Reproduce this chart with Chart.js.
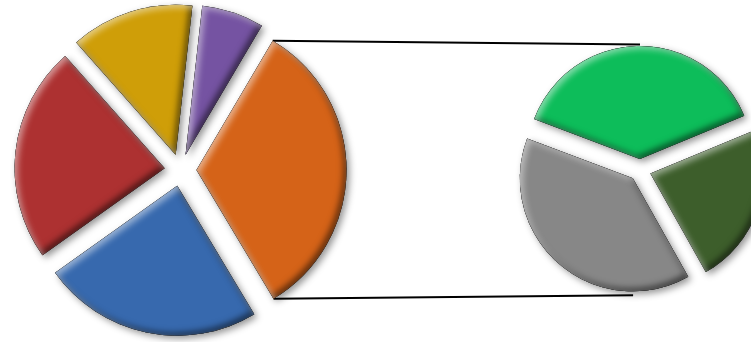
<!DOCTYPE html>
<html>
<head>
<meta charset="utf-8">
<script src="https://cdn.jsdelivr.net/npm/chart.js@4/dist/chart.umd.min.js"></script>
<style>
  html, body { margin: 0; padding: 0; background: #fff; overflow: hidden; width: 751px; height: 342px; }
  canvas { position: absolute; top: 0; }
  #lines { left: 0; z-index: 0; }
  #main { left: 0; z-index: 1; }
  #sub { left: 490px; z-index: 2; }
</style>
</head>
<body>
<canvas id="lines" width="751" height="342"></canvas>
<canvas id="main" width="361" height="342"></canvas>
<canvas id="sub" width="300" height="342"></canvas>
<script>
// ---- data ----
const mainCategories = ['E', 'Other', 'A', 'B', 'C'];
const mainValues = [6.7, 32.9, 23.7, 23.3, 13.3];
const mainColors = ['#7553a2', '#d56318', '#3769ae', '#ad3131', '#cf9e08'];

const subCategories = ['F', 'G', 'H'];
const subValues = [12.5, 7.6, 12.8];
const subColors = ['#0dbd5a', '#3d5e2b', '#878787'];

// ---- drawing helpers ----
function slicePath(ctx, arc) {
  ctx.moveTo(arc.x, arc.y);
  ctx.arc(arc.x, arc.y, arc.outerRadius, arc.startAngle, arc.endAngle);
  ctx.closePath();
}
function innerShadow(ctx, arc, color, blur, ox, oy) {
  ctx.save();
  ctx.beginPath();
  slicePath(ctx, arc);
  ctx.clip();
  ctx.beginPath();
  ctx.rect(-5000, -5000, 10000, 10000);
  slicePath(ctx, arc);
  ctx.shadowColor = color;
  ctx.shadowBlur = blur;
  ctx.shadowOffsetX = ox;
  ctx.shadowOffsetY = oy;
  ctx.fillStyle = '#000';
  ctx.fill('evenodd');
  ctx.restore();
}
const explodePlugin = {
  id: 'explode',
  beforeDatasetDraw(chart, args, opts) {
    const ctx = chart.ctx;
    const d = opts.distance || 0;
    args.meta.data.forEach((arc) => {
      const mid = (arc.startAngle + arc.endAngle) / 2;
      ctx.save();
      ctx.translate(Math.cos(mid) * d, Math.sin(mid) * d);
      ctx.save();
      ctx.shadowColor = 'rgba(0,0,0,0.42)';
      ctx.shadowBlur = 7;
      ctx.shadowOffsetX = 3;
      ctx.shadowOffsetY = 3;
      arc.draw(ctx);
      ctx.restore();
      innerShadow(ctx, arc, 'rgba(0,0,0,0.55)', 6, -3, -3);
      innerShadow(ctx, arc, 'rgba(255,255,255,0.5)', 6, 3, 3);
      ctx.restore();
    });
    return false;
  }
};

function pieConfig(labels, values, colors, rotation, padding, distance) {
  return {
    type: 'pie',
    data: { labels: labels, datasets: [{ data: values, backgroundColor: colors, borderWidth: 0, hoverOffset: 0, offset: 0 }] },
    options: {
      responsive: false,
      animation: false,
      events: [],
      devicePixelRatio: 1,
      rotation: rotation,
      layout: { padding: padding },
      plugins: { legend: { display: false }, tooltip: { enabled: false }, explode: { distance: distance } }
    },
    plugins: [explodePlugin]
  };
}

const MAIN_EXPLODE = 16, SUB_EXPLODE = 11;
const mainChart = new Chart(document.getElementById('main'),
  pieConfig(mainCategories, mainValues, mainColors, 6.4, { left: 20, right: 20, top: 20, bottom: 22 }, MAIN_EXPLODE));
const subChart = new Chart(document.getElementById('sub'),
  pieConfig(subCategories, subValues, subColors, 290.7, { left: 37, right: 37, top: 37, bottom: 39 }, SUB_EXPLODE));

// ---- connector lines between the "Other" slice and the secondary pie ----
(function drawConnectors() {
  const ctx = document.getElementById('lines').getContext('2d');
  const otherIdx = mainCategories.indexOf('Other');
  const arc = mainChart.getDatasetMeta(0).data[otherIdx];
  const mid = (arc.startAngle + arc.endAngle) / 2;
  const ox = arc.x + Math.cos(mid) * MAIN_EXPLODE;
  const oy = arc.y + Math.sin(mid) * MAIN_EXPLODE;
  const p1 = [ox + Math.cos(arc.startAngle) * arc.outerRadius, oy + Math.sin(arc.startAngle) * arc.outerRadius];
  const p2 = [ox + Math.cos(arc.endAngle) * arc.outerRadius, oy + Math.sin(arc.endAngle) * arc.outerRadius];
  const sArc = subChart.getDatasetMeta(0).data[0];
  const subLeft = document.getElementById('sub').offsetLeft;
  const cx = subLeft + sArc.x, cy = sArc.y;
  const reach = sArc.outerRadius + SUB_EXPLODE + 1.5;
  const topA = -Math.PI / 2, botA = Math.PI / 2 + 0.055;
  const q1 = [cx + Math.cos(topA) * reach, cy + Math.sin(topA) * reach];
  const q2 = [cx + Math.cos(botA) * reach, cy + Math.sin(botA) * reach];
  ctx.strokeStyle = '#000';
  ctx.lineWidth = 2;
  ctx.beginPath();
  ctx.moveTo(p1[0], p1[1]); ctx.lineTo(q1[0], q1[1]);
  ctx.moveTo(p2[0], p2[1]); ctx.lineTo(q2[0], q2[1]);
  ctx.stroke();
})();
</script>
</body>
</html>
